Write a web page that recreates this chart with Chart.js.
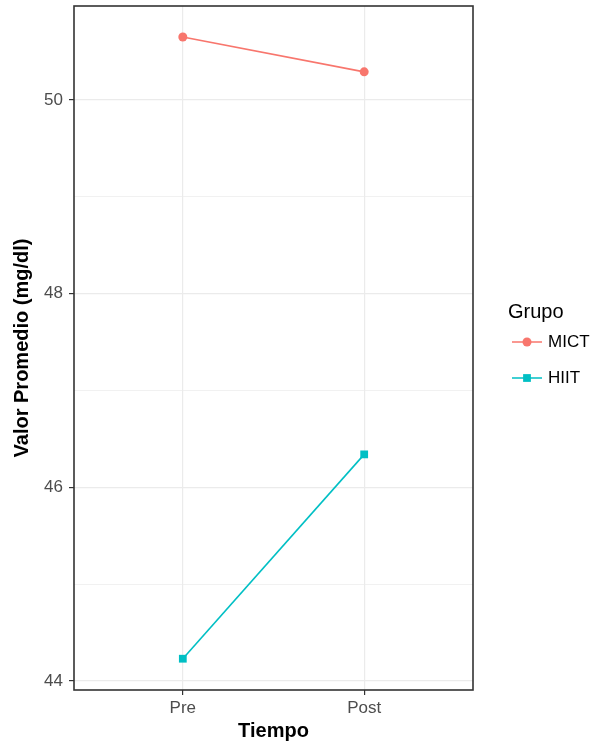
<!DOCTYPE html>
<html>
<head>
<meta charset="utf-8">
<script src="https://cdn.jsdelivr.net/npm/chart.js@4"></script>
<style>
    body { margin: 0; background: #fff; }
    #wrap { width: 595px; height: 751px; position: relative; }
</style>
</head>
<body>
<div id="wrap"><canvas id="chart"></canvas></div>
<script>
const tiempos = ["Pre", "Post"]
const grupos = ["MICT", "HIIT"]
const mictValues = [50.65, 50.29]
const hiitValues = [44.23, 46.34]
const yTicks = [44, 45, 46, 47, 48, 49, 50]

const colors = { MICT: "#F8766D", HIIT: "#00BFC4" }
const shapes = { MICT: "circle", HIIT: "rect" }
const seriesValues = { MICT: mictValues, HIIT: hiitValues }

const font = "'Liberation Sans', Arial, sans-serif"

// panel frame on all four sides, drawn over the lines
const panelBorder = {
    id: "panelBorder",
    afterDatasetsDraw(chart) {
        const { ctx, chartArea: a } = chart
        ctx.save()
        ctx.strokeStyle = "#333333"
        ctx.lineWidth = 1.6
        ctx.strokeRect(a.left, a.top, a.right - a.left, a.bottom - a.top)
        ctx.restore()
    },
}

// ggplot style legend: title plus line+point keys
const groupLegend = {
    id: "groupLegend",
    afterDraw(chart) {
        const { ctx } = chart
        ctx.save()
        ctx.fillStyle = "#000"
        ctx.textBaseline = "middle"
        ctx.font = `20px ${font}`
        ctx.fillText("Grupo", 508, 312)
        chart.data.datasets.forEach((ds, i) => {
            const y = 342 + i * 36
            ctx.strokeStyle = ds.borderColor
            ctx.lineWidth = 1.5
            ctx.beginPath()
            ctx.moveTo(512, y)
            ctx.lineTo(542, y)
            ctx.stroke()
            ctx.fillStyle = ds.backgroundColor
            Chart.helpers.drawPoint(ctx, { pointStyle: ds.pointStyle, radius: ds.pointRadius, borderWidth: 0 }, 527, y)
            ctx.fillStyle = "#000"
            ctx.font = `17px ${font}`
            ctx.fillText(ds.label, 548, y)
        })
        ctx.restore()
    },
}

const datasets = grupos.map((g) => ({
    label: g,
    data: seriesValues[g].map((v, i) => ({ x: i + 1, y: v })),
    borderColor: colors[g],
    backgroundColor: colors[g],
    borderWidth: 1.6,
    pointStyle: shapes[g],
    pointRadius: shapes[g] === "rect" ? 5.5 : 4.5,
    pointBorderWidth: 0,
    tension: 0,
}))

new Chart(document.getElementById("chart"), {
    type: "line",
    data: { datasets },
    plugins: [panelBorder, groupLegend],
    options: {
        responsive: true,
        maintainAspectRatio: false,
        animation: false,
        layout: { padding: { left: 0, right: 122, top: 6, bottom: 0 } },
        plugins: {
            legend: { display: false },
            tooltip: { enabled: false },
        },
        scales: {
            x: {
                type: "linear",
                min: 0.4,
                max: 2.6,
                afterBuildTicks: (scale) => {
                    scale.ticks = tiempos.map((t, i) => ({ value: i + 1 }))
                },
                afterFit: (scale) => {
                    scale.height = 61
                    scale.paddingLeft = 0
                    scale.paddingRight = 0
                },
                border: { display: false },
                grid: {
                    color: "#EBEBEB",
                    lineWidth: 1.2,
                    tickLength: 5,
                    tickColor: "#333333",
                    tickWidth: 1.2,
                },
                ticks: {
                    color: "#4D4D4D",
                    font: { family: font, size: 17 },
                    padding: 3,
                    maxRotation: 0,
                    callback: (v) => tiempos[v - 1],
                },
                title: {
                    display: true,
                    text: "Tiempo",
                    color: "#000",
                    font: { family: font, size: 20, weight: "bold" },
                    padding: { top: 0, bottom: 8 },
                },
            },
            y: {
                min: 43.907,
                max: 50.97,
                afterBuildTicks: (scale) => {
                    scale.ticks = yTicks.map((v) => ({ value: v }))
                },
                afterFit: (scale) => {
                    scale.width = 74
                    scale.paddingTop = 0
                    scale.paddingBottom = 0
                },
                border: { display: false },
                grid: {
                    color: "#EBEBEB",
                    lineWidth: (ctx) => (ctx.tick && ctx.tick.value % 2 === 0 ? 1.2 : 0.7),
                    tickLength: 5,
                    tickColor: (ctx) => (ctx.tick && ctx.tick.value % 2 === 0 ? "#333333" : "rgba(0,0,0,0)"),
                    tickWidth: 1.2,
                },
                ticks: {
                    color: "#4D4D4D",
                    font: { family: font, size: 17 },
                    padding: 6,
                    callback: (v) => (v % 2 === 0 ? v : ""),
                },
                title: {
                    display: true,
                    text: "Valor Promedio (mg/dl)",
                    color: "#000",
                    font: { family: font, size: 20, weight: "bold" },
                    padding: { top: 10, bottom: 0 },
                },
            },
        },
    },
})
</script>
</body>
</html>
